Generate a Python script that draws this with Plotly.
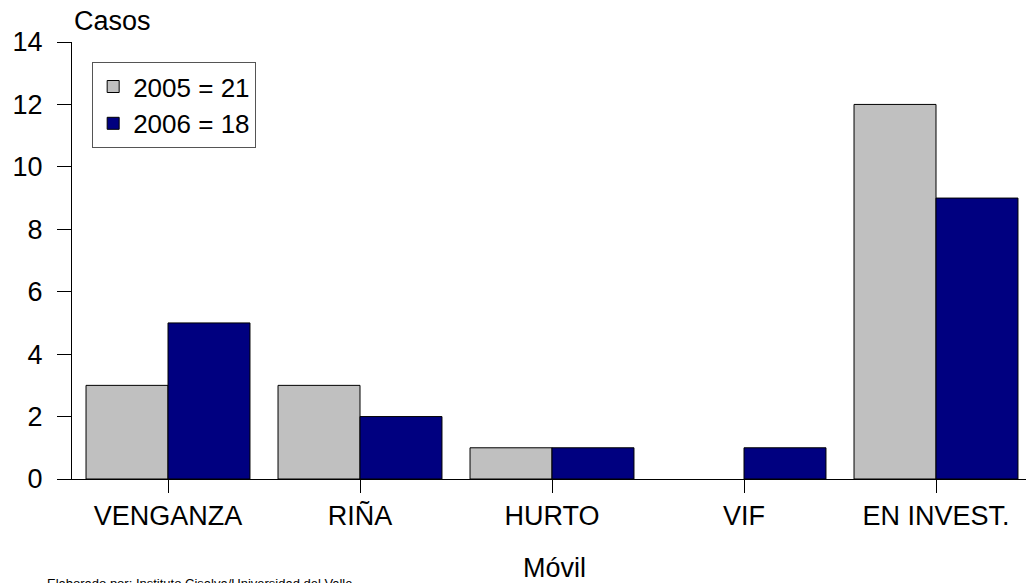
import plotly.graph_objects as go

categorias = ["VENGANZA", "RIÑA", "HURTO", "VIF", "EN INVEST."]
casos_2005 = [3, 3, 1, 0, 12]
casos_2006 = [5, 2, 1, 1, 9]
nombres = ["2005 = 21", "2006 = 18"]
y_ticks = [0, 2, 4, 6, 8, 10, 12, 14]

FONT = "Liberation Sans, Arial, sans-serif"

# the page body adds an 8px margin, so the figure is a bit smaller than the window
fig = go.Figure()
fig.add_trace(go.Bar(
    x=categorias, y=casos_2005, name=nombres[0],
    marker=dict(color="#C0C0C0",
                line=dict(color="black", width=[1 if v else 0 for v in casos_2005])),
))
fig.add_trace(go.Bar(
    x=categorias, y=casos_2006, name=nombres[1],
    marker=dict(color="#000080",
                line=dict(color="black", width=[1 if v else 0 for v in casos_2006])),
))

fig.update_layout(
    width=1026, height=575,
    margin=dict(l=64, r=2, t=34, b=104),
    paper_bgcolor="white", plot_bgcolor="white",
    font=dict(family=FONT, size=27, color="black"),
    barmode="group", bargap=0.146, bargroupgap=0,
    showlegend=True,
    legend=dict(
        x=0.021, y=0.954, xanchor="left", yanchor="top",
        bordercolor="#555555", borderwidth=1, bgcolor="white",
        font=dict(size=26), tracegroupgap=0, itemwidth=30,
    ),
)

fig.update_xaxes(
    range=[-0.5, 4.5], automargin=False,
    showline=True, linecolor="black", linewidth=1,
    ticks="outside", ticklen=13, tickcolor="black",
    showgrid=False, zeroline=False,
    tickfont=dict(size=27),
)
fig.update_yaxes(
    range=[0, 14], tickvals=y_ticks, automargin=False,
    showline=True, linecolor="black", linewidth=1,
    ticks="outside", ticklen=14, tickcolor="black",
    showgrid=False, zeroline=False,
    tickfont=dict(size=27), ticklabelstandoff=9,
)

fig.add_annotation(
    text="Casos", xref="paper", yref="paper", x=0.0, y=1.0, yshift=4,
    xanchor="left", yanchor="bottom", showarrow=False, font=dict(size=27),
)
fig.add_annotation(
    text="Móvil", xref="paper", yref="paper", x=0.503, y=-0.164,
    xanchor="center", yanchor="top", showarrow=False, font=dict(size=27),
)
fig.add_annotation(
    text="Elaborado por: Instituto Cisalva/Universidad del Valle",
    xref="paper", yref="paper", x=-0.0285, y=-0.218,
    xanchor="left", yanchor="top", showarrow=False, font=dict(size=13),
)

fig.write_html("out.html")
